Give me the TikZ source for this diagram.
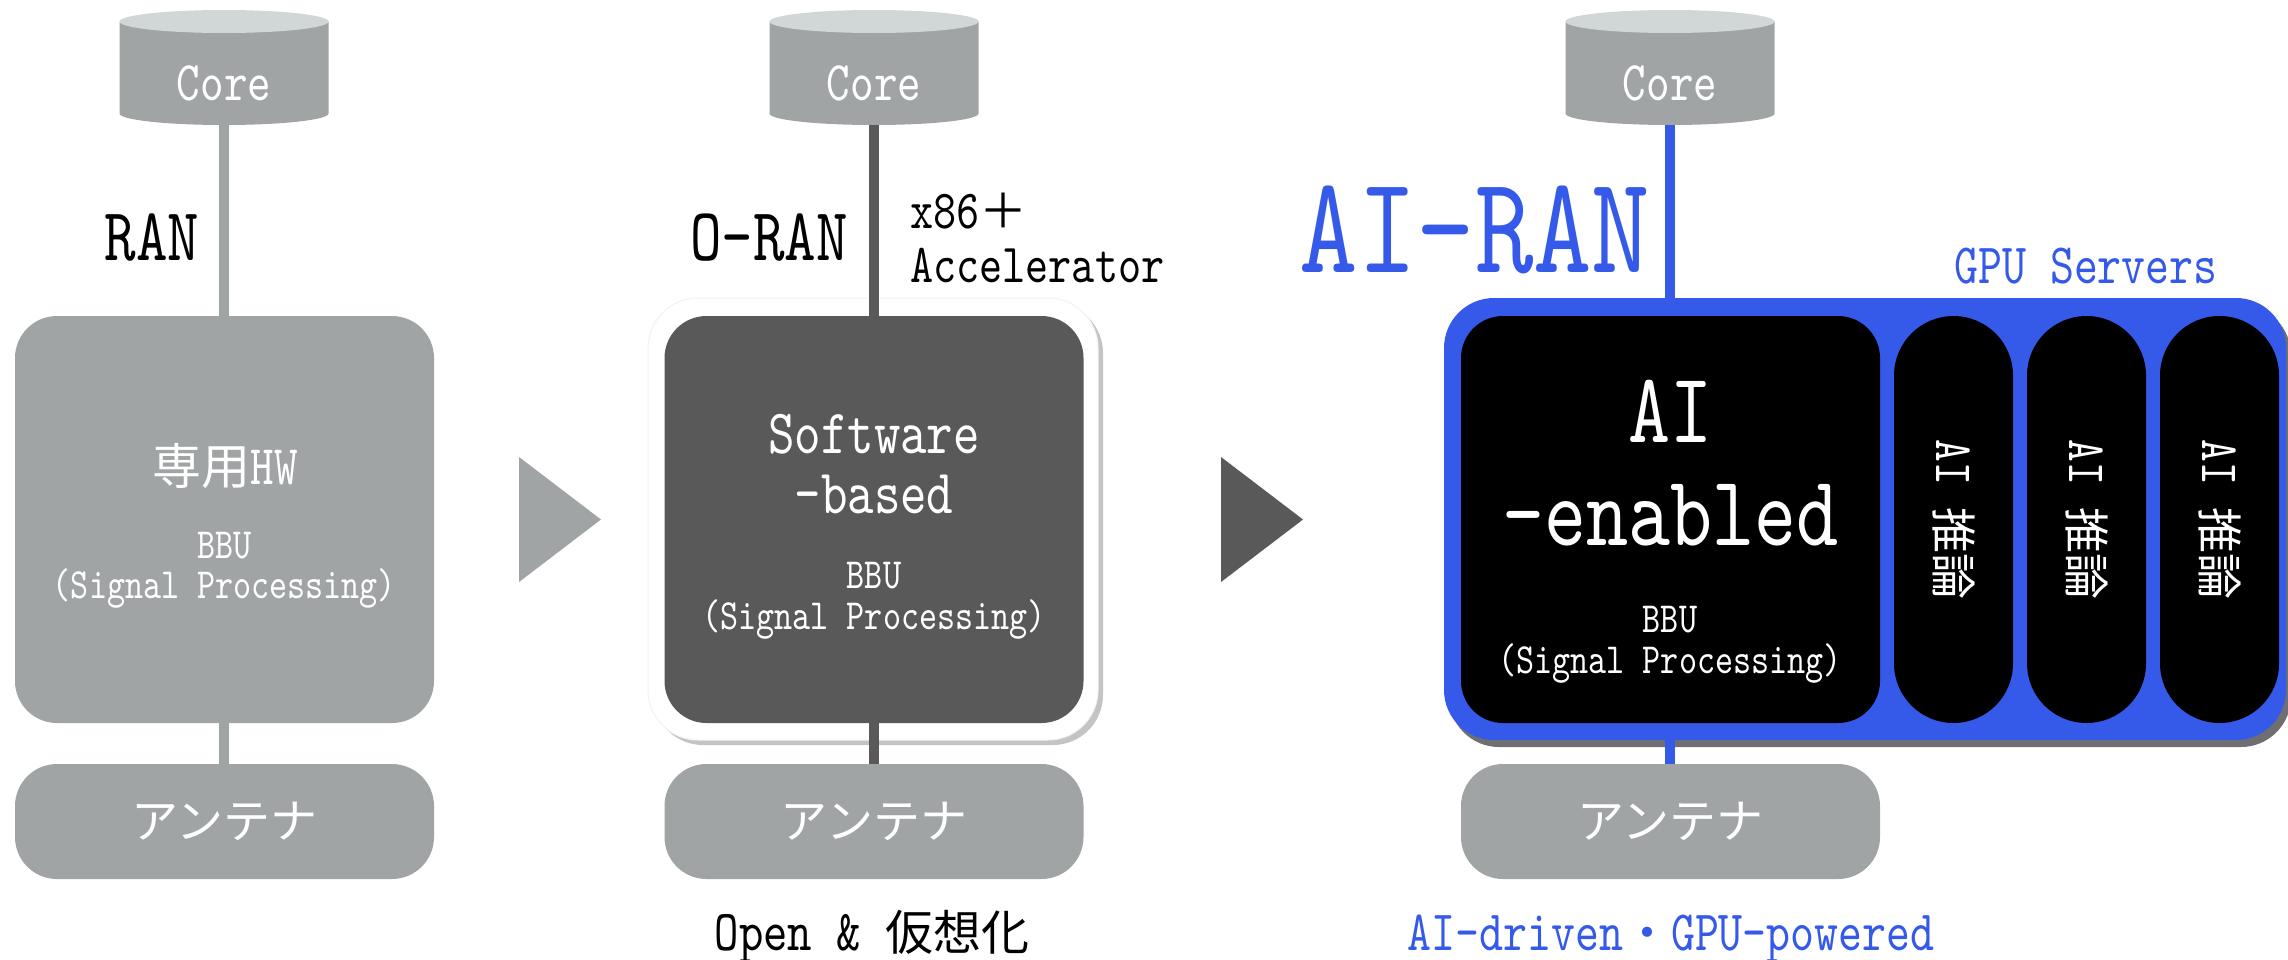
\documentclass[tikz,border=0pt]{standalone}
\usepackage{fontspec}
\newfontfamily\mono[FakeStretch=0.8]{lmmono10-regular.otf}
\newfontfamily\jp{Noto Sans CJK JP}
\definecolor{lgray}{HTML}{A0A4A5}
\definecolor{ltop}{HTML}{D1D6D6}
\definecolor{dgray}{HTML}{595959}
\definecolor{aiblue}{HTML}{355AE9}
\definecolor{shadowA}{HTML}{C4C4C4}
\definecolor{shadowB}{HTML}{6F6F72}
\newcommand\setfs[1]{\fontsize{#1}{#1}\selectfont}
\newcommand\drawcyl[1]{%
  \fill[lgray] (#1-104.5,21.5) -- (#1-104.5,113.5)
    arc[start angle=180,end angle=0,x radius=104.5,y radius=11.5] -- (#1+104.5,21.5) -- cycle;
  \fill[ltop] (#1,21.5) ellipse[x radius=104.5,y radius=11.5];
}
\tikzset{
  coreshape/.style={minimum width=209pt,minimum height=115pt,inner sep=0pt},
  coretext/.style={anchor=base,text=white,font=\mono\setfs{56}},
  mainbox/.style={rounded corners=42pt,minimum width=419pt,minimum height=407pt,inner sep=0pt},
  antbox/.style={rounded corners=42pt,minimum width=419pt,minimum height=115pt,inner sep=0pt,fill=lgray,text=white,font=\jp\setfs{47}},
  oval/.style={rounded corners=59.5pt,minimum width=119pt,minimum height=407pt,inner sep=0pt,fill=black},
  conn1/.style={draw=lgray,line width=10pt},
  conn2/.style={draw=dgray,line width=10pt},
  conn3/.style={draw=aiblue,line width=10pt},
  small/.style={anchor=base,text=white,font=\mono\setfs{43}},
  ovaltext/.style={rotate=-90,text=white,inner sep=0pt},
}
\begin{document}
\begin{tikzpicture}[x=1pt,y=-1pt]
\useasboundingbox (0,0) rectangle (2288,959);

% cylinders
\drawcyl{224}
\drawcyl{874}
\drawcyl{1670}
\node[coreshape] (core1) at (224,67.5) {};
\node[coreshape] (core2) at (874,67.5) {};
\node[coreshape] (core3) at (1670,67.5) {};

% frames
\node[rounded corners=50pt,minimum width=450pt,minimum height=442pt,inner sep=0pt,
      fill=white,draw=black!5,line width=1pt,
      preaction={fill=shadowA,transform canvas={shift={(5pt,-5pt)}}}] (frame2) at (873,519) {};
\node[rounded corners=50pt,minimum width=842pt,minimum height=442pt,inner sep=0pt,
      fill=aiblue,
      preaction={fill=shadowB,transform canvas={shift={(5pt,-7pt)}}}] (frame3) at (1865,519) {};

% main boxes
\node[mainbox,fill=lgray] (box1) at (224.5,519.5) {};
\node[mainbox,fill=dgray] (box2) at (874,519.5) {};
\node[mainbox,fill=black] (box3) at (1670.5,519.5) {};
\node[oval] (ov1) at (1953.5,519.5) {};
\node[oval] (ov2) at (2086.5,519.5) {};
\node[oval] (ov3) at (2219.5,519.5) {};

% antennas
\node[antbox] (ant1) at (224.5,821.5) {アンテナ};
\node[antbox] (ant2) at (874,821.5) {アンテナ};
\node[antbox] (ant3) at (1670.5,821.5) {アンテナ};

% connectors
\draw[conn1] (core1.south) -- (core1.south |- box1.north);
\draw[conn1] (core1.south |- box1.south) -- (core1.south |- ant1.north);
\draw[conn2] (core2.south) -- (core2.south |- box2.north);
\draw[conn2] (core2.south |- box2.south) -- (core2.south |- ant2.north);
\draw[conn3] (core3.south) -- (core3.south |- frame3.north);
\draw[conn3] (core3.south |- frame3.south) -- (core3.south |- ant3.north);

% core texts
\node[coretext] (c1t) at (224,100) {Core};
\node[coretext] (c2t) at (874,100) {Core};
\node[coretext] (c3t) at (1670,100) {Core};

% titles
\node[anchor=base,font=\mono\setfs{75}] (ran) at (152,260) {RAN};
\node[anchor=base,font=\mono\setfs{75}] (oran) at (769,260) {O–RAN};
\node[anchor=base,font=\mono\setfs{139},text=aiblue] (airan) at (1475,272) {AI–RAN};
\node[anchor=base west,inner sep=0pt] (x86) at (910,228) {{\mono\setfs{55}x86}{\jp\setfs{48}＋}};
\node[anchor=base west,inner sep=0pt,font=\mono\setfs{55}] (acc) at (910,282) {Accelerator};
\node[anchor=base,font=\mono\setfs{57},text=aiblue] (gpus) at (2086,283) {GPU Servers};

% box 1 texts
\node[anchor=base,text=white] (hw) at (225,484) {{\jp\setfs{49}専用}{\mono\setfs{56}HW}};
\node[small] (bbu1) at (224.5,558) {BBU};
\node[small] (sp1) at (224.5,598) {(Signal Processing)};

% box 2 texts
\node[anchor=base,text=white,font=\mono\setfs{63}] (sw) at (874,453) {Software};
\node[anchor=base,text=white,font=\mono\setfs{63}] (sb) at (874,513) {–based};
\node[small] (bbu2) at (874,588) {BBU};
\node[small] (sp2) at (874,629) {(Signal Processing)};

% box 3 texts
\node[anchor=base,text=white,font=\mono\setfs{100}] (ai) at (1670,442) {AI};
\node[anchor=base,text=white,font=\mono\setfs{100}] (en) at (1670,545) {–enabled};
\node[small] (bbu3) at (1670,632) {BBU};
\node[small] (sp3) at (1670,673) {(Signal Processing)};

% oval texts
\node[ovaltext] (o1t) at (ov1.center) {{\mono\setfs{54}AI }{\jp\setfs{46}推論}};
\node[ovaltext] (o2t) at (ov2.center) {{\mono\setfs{54}AI }{\jp\setfs{46}推論}};
\node[ovaltext] (o3t) at (ov3.center) {{\mono\setfs{54}AI }{\jp\setfs{46}推論}};

% bottom captions
\node[anchor=base] (open) at (872,950) {{\mono\setfs{58}Open \& }{\jp\setfs{48}仮想化}};
\node[anchor=base,text=aiblue] (drv) at (1671,950) {{\mono\setfs{57}AI-driven}{\jp\setfs{48}・}{\mono\setfs{57}GPU-powered}};

% arrows
\fill[lgray] (519,457) -- (601,519.5) -- (519,582) -- cycle;
\fill[dgray] (1221,457) -- (1303,519.5) -- (1221,582) -- cycle;
\end{tikzpicture}
\end{document}
